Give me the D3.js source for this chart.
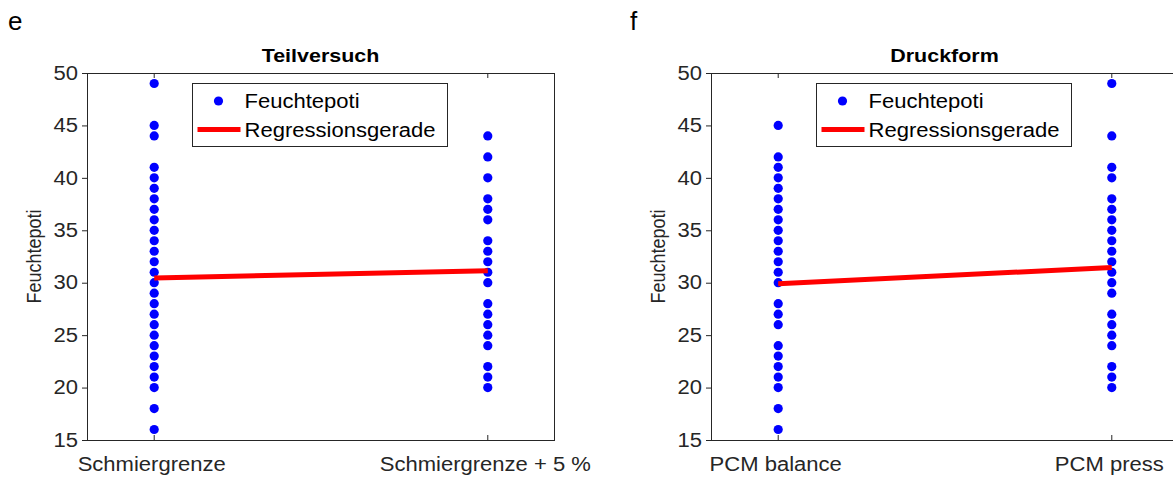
<!DOCTYPE html>
<html>
<head>
<meta charset="utf-8">
<script src="https://cdn.jsdelivr.net/npm/d3@7"></script>
<style>
  html, body { margin: 0; padding: 0; background: #ffffff; }
  svg { display: block; }
</style>
</head>
<body>
<script>
// Measured values (Feuchtepoti) per category, one array per group
const yTicks = [15, 20, 25, 30, 35, 40, 45, 50];
const panelLetters = ["e", "f"];
const panelTitles = ["Teilversuch", "Druckform"];
const yLabel = "Feuchtepoti";
const legendLabels = ["Feuchtepoti", "Regressionsgerade"];

const categoriesE = ["Schmiergrenze", "Schmiergrenze + 5 %"];
const schmiergrenze = [49, 45, 44, 41, 40, 39, 38, 37, 36, 35, 34, 33, 32, 31, 30,
  29, 28, 27, 26, 25, 24, 23, 22, 21, 20, 18, 16];
const schmiergrenzePlus5 = [44, 42, 40, 38, 37, 36, 34, 33, 32, 31, 30, 28, 27, 26,
  25, 24, 22, 21, 20];
const regressionE = [30.45, 31.15];

const categoriesF = ["PCM balance", "PCM press"];
const pcmBalance = [45, 42, 41, 40, 39, 38, 37, 36, 35, 34, 33, 32, 31, 30, 28, 27,
  26, 24, 23, 22, 21, 20, 18, 16];
const pcmPress = [49, 44, 41, 40, 38, 37, 36, 35, 34, 33, 32, 31, 30, 29, 27, 26, 25,
  24, 22, 21, 20];
const regressionF = [29.9, 31.45];

const FONT = "'Liberation Sans', Arial, Helvetica, sans-serif";
const INK = "#262626";
const SX = 1.13;          // horizontal widening of the label glyphs
const FS = 19.5;

const svg = d3.select("body").append("svg")
  .attr("width", 1173).attr("height", 477);

function drawPanel(p) {
  const x = d3.scaleLinear().domain([0.8, 2.2]).range([p.x0, p.x1]);
  const y = d3.scaleLinear().domain([15, 50]).range([p.y1, p.y0]);
  const g = svg.append("g");

  // panel letter
  g.append("text")
    .attr("x", p.letterX).attr("y", 30)
    .attr("font-family", FONT).attr("font-size", 26).attr("fill", "#000")
    .text(p.letter);

  // title
  g.append("text")
    .attr("transform", `translate(${(p.x0 + p.x1) / 2},62) scale(${SX},1)`)
    .attr("text-anchor", "middle")
    .attr("font-family", FONT).attr("font-size", 19).attr("font-weight", "bold")
    .attr("fill", "#000")
    .text(p.title);

  // y axis (ticks outward)
  const yAxis = g.append("g")
    .attr("transform", `translate(${p.x0},0)`)
    .call(d3.axisLeft(y).tickValues(yTicks).tickSizeInner(5).tickSizeOuter(0).tickPadding(4));
  yAxis.select(".domain").remove();
  yAxis.selectAll(".tick line").attr("stroke", INK);
  yAxis.selectAll(".tick text")
    .attr("x", -9 / SX)
    .attr("transform", `scale(${SX},1)`)
    .attr("font-family", FONT).attr("font-size", FS).attr("fill", INK);

  // x axis (ticks inward), category labels below
  const xAxis = g.append("g")
    .attr("transform", `translate(0,${p.y1})`)
    .call(d3.axisBottom(x).tickValues([1, 2]).tickFormat(d => p.cats[d - 1])
      .tickSizeInner(-5).tickSizeOuter(0).tickPadding(17));
  xAxis.select(".domain").remove();
  xAxis.selectAll(".tick line").attr("stroke", INK);
  xAxis.selectAll(".tick text")
    .attr("x", -2.5 / SX)
    .attr("transform", `scale(${SX},1)`)
    .attr("font-family", FONT).attr("font-size", FS).attr("fill", INK);

  // mirrored ticks along the top edge
  const xTop = g.append("g")
    .attr("transform", `translate(0,${p.y0})`)
    .call(d3.axisTop(x).tickValues([1, 2]).tickFormat("").tickSizeInner(-5).tickSizeOuter(0));
  xTop.select(".domain").remove();
  xTop.selectAll(".tick line").attr("stroke", INK);

  // axes box
  g.append("rect")
    .attr("x", x.range()[0] + 0.5).attr("y", y.range()[1] + 0.5)
    .attr("width", x.range()[1] - x.range()[0])
    .attr("height", y.range()[0] - y.range()[1])
    .attr("fill", "none").attr("stroke", INK).attr("stroke-width", 1);

  // y label
  g.append("text")
    .attr("transform", `translate(${p.x0 - 46},${(p.y0 + p.y1) / 2}) scale(1.1,1) rotate(-90)`)
    .attr("text-anchor", "middle")
    .attr("font-family", FONT).attr("font-size", 18).attr("fill", INK)
    .text(yLabel);

  // scatter points
  p.groups.forEach((vals, i) => {
    g.append("g").selectAll("circle")
      .data(vals)
      .join("circle")
      .attr("cx", x(i + 1) + 0.5)
      .attr("cy", d => y(d))
      .attr("r", 4.6)
      .attr("fill", "#0000ff");
  });

  // regression line between the two categories
  g.append("line")
    .attr("x1", x(1) + 0.5).attr("y1", y(p.fit[0]))
    .attr("x2", x(2) + 0.5).attr("y2", y(p.fit[1]))
    .attr("stroke", "#ff0000").attr("stroke-width", 5);

  // legend
  const lx = p.x0 + 105.5, ly = 83.5;
  const lg = g.append("g");
  lg.append("rect")
    .attr("x", lx).attr("y", ly).attr("width", 255).attr("height", 63)
    .attr("fill", "#ffffff").attr("stroke", INK).attr("stroke-width", 1);
  lg.append("circle")
    .attr("cx", lx + 26).attr("cy", ly + 17.5).attr("r", 4.6).attr("fill", "#0000ff");
  lg.append("line")
    .attr("x1", lx + 5).attr("x2", lx + 48)
    .attr("y1", ly + 46).attr("y2", ly + 46)
    .attr("stroke", "#ff0000").attr("stroke-width", 5);
  legendLabels.forEach((t, i) => {
    lg.append("text")
      .attr("transform", `translate(${lx + 52},${ly + 24.5 + i * 28.5}) scale(${SX},1)`)
      .attr("font-family", FONT).attr("font-size", FS).attr("fill", "#000")
      .text(t);
  });
}

drawPanel({
  x0: 87, x1: 554, y0: 73, y1: 440,
  letter: panelLetters[0], letterX: 8, title: panelTitles[0],
  cats: categoriesE, groups: [schmiergrenze, schmiergrenzePlus5], fit: regressionE
});

drawPanel({
  x0: 711, x1: 1178, y0: 73, y1: 440,
  letter: panelLetters[1], letterX: 630, title: panelTitles[1],
  cats: categoriesF, groups: [pcmBalance, pcmPress], fit: regressionF
});
</script>
</body>
</html>
